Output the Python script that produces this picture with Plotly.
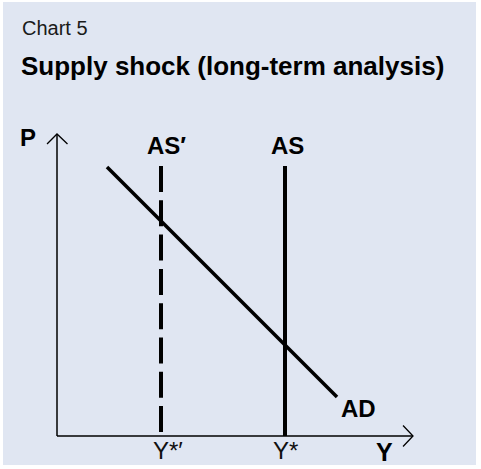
import plotly.graph_objects as go

# ---- data (model units) ----
y_star_prime = 10.4          # Y*' (shifted potential output)
y_star = 22.8                # Y*  (potential output)
as_p = [0.2, 27.0]           # vertical extent of AS curves (P)
ad_y = [5.0, 28.0]           # AD curve output values
ad_p = [26.9, 3.9]           # AD curve price values
x_axis_len = 35.6
y_axis_len = 30.2
x_range = [-5.7, 42.4]
y_range = [-3.3, 43.6]

labels_bold = ["P", "AS′", "AS", "AD", "Y"]
labels_bold_x = [-2.9, 10.9, 23.0, 30.15, 32.75]
labels_bold_y = [29.9, 29.1, 29.1, 2.75, -1.6]
tick_labels = ["Y*′", "Y*"]
tick_label_x = [11.1, 22.8]
tick_label_y = [-1.45, -1.45]

title_small = "Chart 5"
title_big = "Supply shock (long-term analysis)"

BG = "#e0e6f2"
INK = "#000000"
FONT = "Liberation Sans, Arial, sans-serif"
ARROW = 1.05

fig = go.Figure()

# axes drawn as lines with open chevrons
fig.add_trace(go.Scatter(x=[0, 0], y=[0, y_axis_len], mode="lines",
                         line=dict(color=INK, width=1.5), hoverinfo="skip"))
fig.add_trace(go.Scatter(x=[-ARROW * 0.95, 0, ARROW], y=[y_axis_len - ARROW * 0.95, y_axis_len, y_axis_len - ARROW * 0.95],
                         mode="lines", line=dict(color=INK, width=1.3), hoverinfo="skip"))
fig.add_trace(go.Scatter(x=[0, x_axis_len], y=[0, 0], mode="lines",
                         line=dict(color=INK, width=1.5), hoverinfo="skip"))
fig.add_trace(go.Scatter(x=[x_axis_len - ARROW * 0.95, x_axis_len, x_axis_len - ARROW * 0.95], y=[ARROW, 0, -ARROW],
                         mode="lines", line=dict(color=INK, width=1.3), hoverinfo="skip"))

# AS' (dashed) and AS (solid)
fig.add_trace(go.Scatter(x=[y_star_prime, y_star_prime], y=[as_p[1], as_p[0]], mode="lines",
                         line=dict(color=INK, width=4, dash="26px,8.3px"), hoverinfo="skip"))
fig.add_trace(go.Scatter(x=[y_star, y_star], y=[as_p[1], as_p[0] - 0.2], mode="lines",
                         line=dict(color=INK, width=4), hoverinfo="skip"))
# AD
fig.add_trace(go.Scatter(x=ad_y, y=ad_p, mode="lines",
                         line=dict(color=INK, width=3.6), hoverinfo="skip"))

annotations = []
for t, x, y in zip(labels_bold, labels_bold_x, labels_bold_y):
    annotations.append(dict(x=x, y=y, text=f"<b>{t}</b>", showarrow=False,
                            xanchor="center", yanchor="middle",
                            font=dict(family=FONT, size=25 if t == "Y" else 24, color=INK)))
for t, x, y in zip(tick_labels, tick_label_x, tick_label_y):
    annotations.append(dict(x=x, y=y, text=t, showarrow=False,
                            xanchor="center", yanchor="middle",
                            font=dict(family=FONT, size=24, color="#111111")))
annotations.append(dict(xref="paper", yref="paper", x=20 / 481, y=1 - 28 / 469, text=title_small,
                        showarrow=False, xanchor="left", yanchor="middle",
                        font=dict(family=FONT, size=20, color="#1a1a1a")))
annotations.append(dict(xref="paper", yref="paper", x=19 / 481, y=1 - 66 / 469, text=f"<b>{title_big}</b>",
                        showarrow=False, xanchor="left", yanchor="middle",
                        font=dict(family=FONT, size=26, color=INK)))

fig.update_layout(
    width=481, height=469,
    margin=dict(l=0, r=0, t=0, b=0),
    paper_bgcolor="white", plot_bgcolor="white",
    showlegend=False,
    xaxis=dict(range=x_range, visible=False, fixedrange=True),
    yaxis=dict(range=y_range, visible=False, fixedrange=True),
    shapes=[dict(type="rect", xref="paper", yref="paper", layer="below",
                 x0=3 / 481, x1=476 / 481, y0=1 - 465 / 469, y1=1 - 2 / 469,
                 fillcolor=BG, line=dict(width=0))],
    annotations=annotations,
)

fig.write_html("out.html", config={"displayModeBar": False},
               post_script="document.body.style.margin='0';document.body.style.overflow='hidden';")
